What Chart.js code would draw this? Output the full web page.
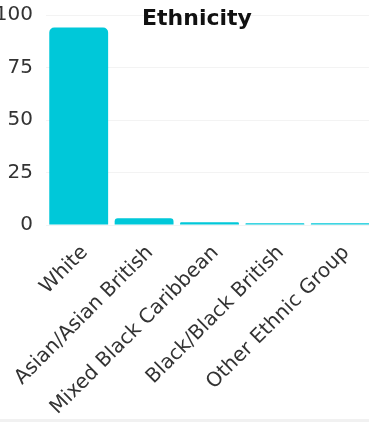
<!DOCTYPE html>
<html>
<head>
<meta charset="utf-8">
<script src="https://cdn.jsdelivr.net/npm/chart.js@4"></script>
<style>
  html, body { margin: 0; padding: 0; background: #fff; overflow: hidden; }
  body { width: 369px; height: 422px; position: relative; }
  #wrap { position: absolute; left: -8px; top: 0; width: 410px; height: 419px; }
  #edge { position: absolute; left: 0; right: 0; bottom: 0; height: 3px; background: #f1f1f1; }
</style>
</head>
<body>
<div id="wrap"><canvas id="myChart"></canvas></div>
<div id="edge"></div>
<script>
const categories = ['White', 'Asian/Asian British', 'Mixed Black Caribbean', 'Black/Black British', 'Other Ethnic Group'];
const values = [94, 3.2, 1.3, 0.8, 0.8];
const yTicks = [0, 25, 50, 75, 100];

// nudge the title so it sits centred on the whole (uncropped) canvas
const titleShift = {
    id: 'titleShift',
    afterLayout(chart) {
        const t = chart.titleBlock;
        if (t) { t.left += 14.5; t.right += 14.5; }
    }
};

const ctx = document.getElementById('myChart').getContext('2d');
new Chart(ctx, {
    type: 'bar',
    data: {
        labels: categories,
        datasets: [{
            label: 'Ethnicity',
            data: values,
            backgroundColor: '#00c8d9',
            borderRadius: 5,
            borderSkipped: 'bottom',
            barPercentage: 0.9,
            categoryPercentage: 1.0
        }]
    },
    options: {
        responsive: true,
        maintainAspectRatio: false,
        animation: false,
        layout: {
            padding: { top: 2, right: 29, bottom: 3, left: 0 }
        },
        plugins: {
            legend: { display: false },
            tooltip: { enabled: false },
            title: {
                display: true,
                text: 'Ethnicity',
                color: '#111',
                font: { family: 'DejaVu Sans', size: 22, weight: 'bold' },
                padding: { top: 4, bottom: -17.4 }
            }
        },
        scales: {
            y: {
                min: yTicks[0],
                max: yTicks[yTicks.length - 1],
                afterBuildTicks: function(scale) {
                    scale.ticks = yTicks.map(v => ({ value: v }));
                },
                afterFit: function(scale) {
                    // keep the plot edge where the original has it
                    scale.width = 54;
                    scale.paddingTop = 0;
                    scale.paddingBottom = 0;
                },
                border: { display: false },
                grid: { color: '#f3f3f3', drawTicks: false },
                ticks: {
                    color: '#333',
                    padding: 13,
                    font: { family: 'DejaVu Sans', size: 20 }
                }
            },
            x: {
                afterFit: function(scale) {
                    scale.height = 191;
                    scale.paddingLeft = 0;
                    scale.paddingRight = 0;
                },
                border: { display: false },
                grid: { display: false },
                ticks: {
                    color: '#333',
                    minRotation: 45,
                    maxRotation: 45,
                    padding: 8,
                    labelOffset: 6,
                    font: { family: 'DejaVu Sans', size: 20 }
                }
            }
        }
    },
    plugins: [titleShift]
});
</script>
</body>
</html>
